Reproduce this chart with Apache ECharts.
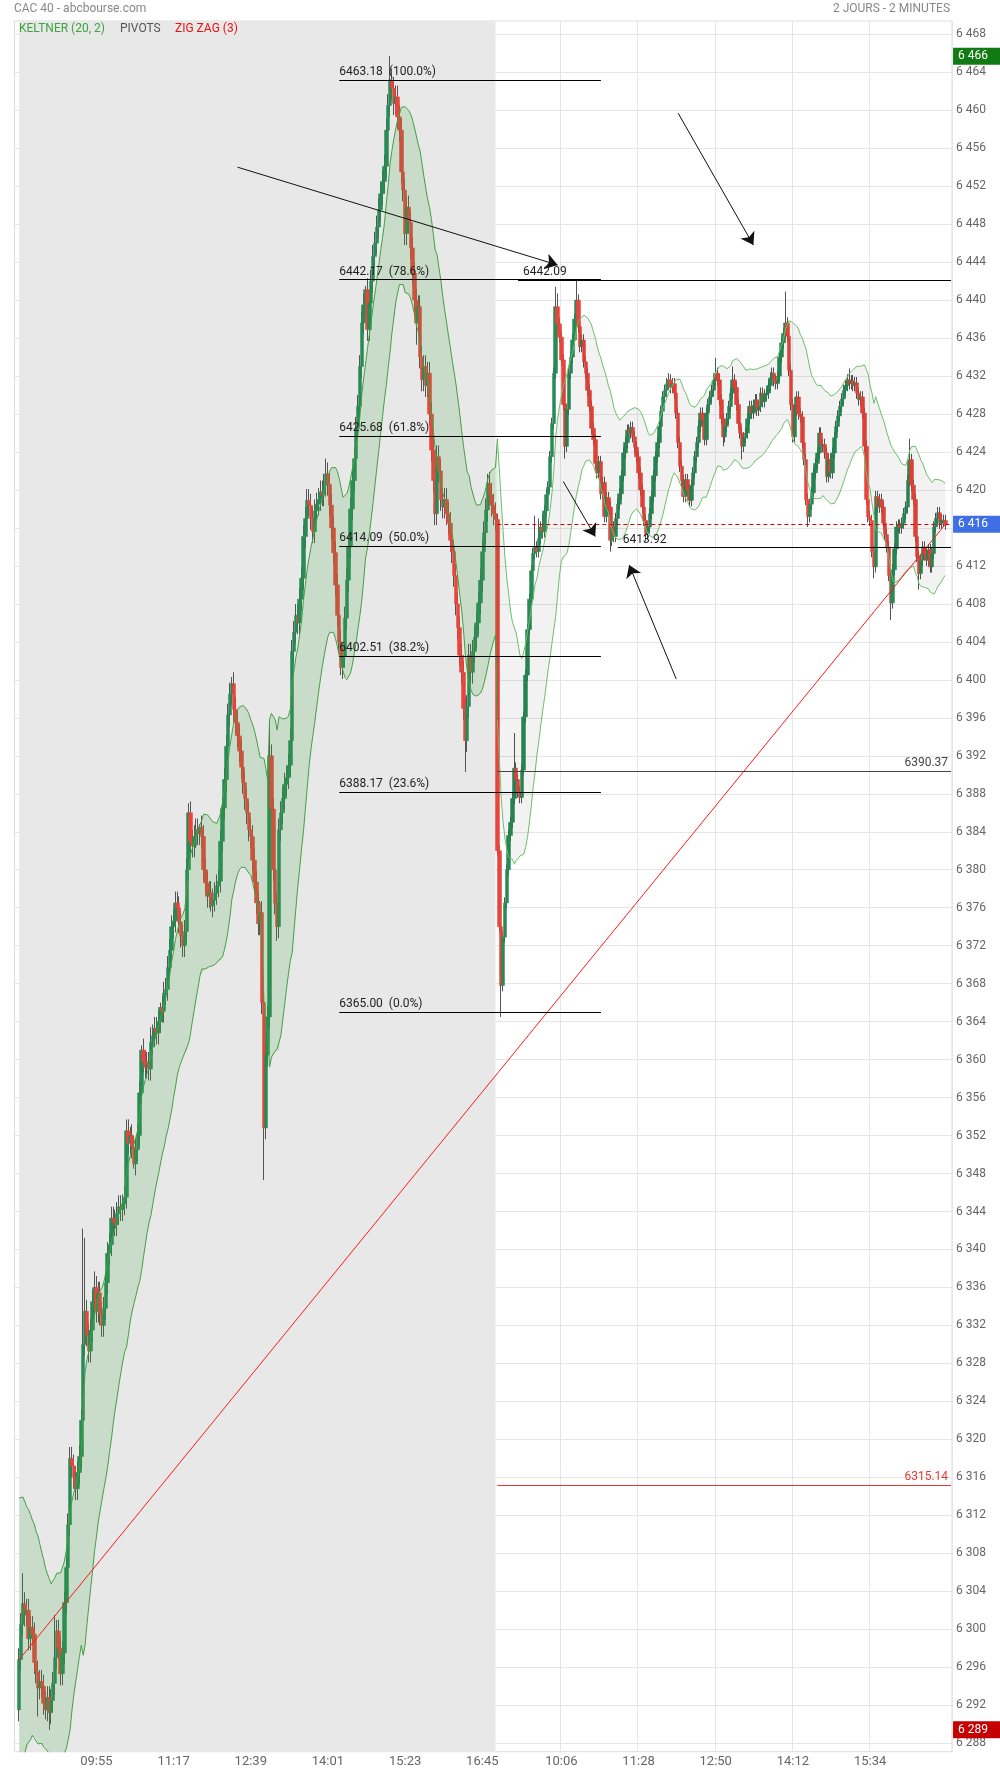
<!DOCTYPE html>
<html><head><meta charset="utf-8">
<script src="https://cdn.jsdelivr.net/npm/echarts@6/dist/echarts.min.js"></script>
<style>html,body{margin:0;padding:0;background:#fff}#c{width:1000px;height:1774px}</style>
</head><body><div id="c"></div>
<script>
// ---------- data ----------
const nSlots = 498;
const tickIndex = [43, 84, 125, 166, 207, 248, 290, 331, 372, 413, 454];
const tickLabels = ['09:55','11:17','12:39','14:01','15:23','16:45','10:06','11:28','12:50','14:12','15:34'];
const day1First = 2;
const day2Start = 256;
const firstOpen = 6291.5;

const closes = [
null,null,6296.8,6300.5,6302.7,6301.5,6302.0,6299.0,6300.2,6299.5,
6296.5,6295.5,6293.8,6294.5,6294.0,6292.2,6291.5,6292.8,6291.2,6292.5,
6294.3,6297.0,6299.8,6298.0,6295.3,6297.5,6302.8,6306.5,6311.0,6318.0,
6317.2,6316.0,6314.8,6316.5,6318.2,6322.0,6330.0,6333.5,6331.0,6329.3,
6331.5,6334.5,6336.0,6333.5,6335.4,6333.2,6332.0,6333.8,6336.5,6339.6,
6340.5,6343.3,6343.0,6342.6,6343.8,6344.5,6344.2,6344.8,6345.5,6352.5,
6351.2,6352.0,6350.8,6349.0,6350.5,6352.0,6356.5,6361.0,6359.8,6359.2,
6359.6,6359.0,6361.8,6362.5,6363.3,6362.8,6364.0,6365.5,6365.1,6367.0,
6367.4,6369.7,6371.5,6374.0,6374.6,6376.5,6376.0,6374.5,6373.0,6372.0,
6373.5,6380.0,6386.0,6383.0,6382.5,6383.5,6384.2,6383.8,6384.5,6383.5,
6380.0,6378.6,6377.2,6377.6,6376.2,6376.8,6377.5,6378.3,6378.8,6383.0,
6386.5,6389.5,6393.0,6396.3,6398.5,6399.6,6396.9,6395.5,6394.1,6392.5,
6390.8,6389.2,6387.5,6386.0,6384.2,6383.5,6381.0,6378.7,6376.5,6374.3,
6375.5,6366.0,6352.8,6360.5,6364.5,6392.0,6386.4,6380.0,6376.5,6374.0,
6384.2,6386.0,6387.5,6389.0,6389.7,6391.0,6393.6,6403.0,6405.0,6406.8,
6406.0,6408.5,6410.7,6415.1,6417.0,6418.9,6418.4,6417.0,6415.6,6417.8,
6418.5,6419.0,6419.8,6419.5,6420.5,6421.7,6420.6,6418.4,6416.0,6413.4,
6410.0,6406.8,6404.0,6401.3,6402.5,6406.5,6410.5,6414.0,6418.0,6421.0,
6423.3,6426.5,6428.8,6433.0,6437.6,6439.5,6441.1,6436.9,6439.7,6442.0,
6444.6,6446.0,6447.7,6449.5,6451.2,6452.5,6454.1,6457.9,6460.5,6463.2,
6462.3,6460.7,6461.4,6459.3,6457.9,6453.5,6451.6,6447.0,6449.8,6448.2,
6445.5,6442.8,6440.0,6437.6,6439.3,6434.0,6431.6,6433.0,6431.0,6432.3,
6428.0,6424.2,6421.0,6417.5,6423.5,6422.0,6419.0,6418.2,6419.0,6417.5,
6416.5,6414.7,6413.5,6411.0,6408.0,6405.5,6402.6,6400.8,6397.0,6393.6,
6397.2,6402.6,6400.8,6403.0,6404.5,6406.0,6408.1,6410.5,6413.5,6415.5,
6417.9,6420.7,6419.5,6418.4,6417.5,6416.9,6382.0,6374.0,6367.8,6372.9,
6376.5,6380.0,6383.6,6385.0,6387.5,6390.7,6389.5,6388.2,6387.6,6390.5,
6396.1,6400.5,6405.3,6408.5,6411.5,6413.3,6414.0,6413.5,6414.9,6416.1,
6415.6,6417.8,6419.5,6420.3,6423.5,6427.0,6432.3,6439.3,6437.5,6436.1,
6433.7,6429.0,6424.6,6428.5,6432.3,6434.0,6435.8,6438.0,6440.0,6437.2,
6435.1,6435.8,6433.5,6432.3,6430.5,6428.8,6426.5,6425.3,6422.8,6421.8,
6423.0,6419.6,6420.8,6417.2,6419.2,6418.2,6414.7,6416.1,6415.1,6417.0,
6418.5,6419.6,6421.5,6423.9,6425.0,6426.3,6426.0,6426.6,6425.6,6424.5,
6423.5,6421.8,6420.0,6418.2,6416.8,6415.4,6416.1,6417.5,6419.3,6421.5,
6423.5,6425.0,6426.7,6428.3,6429.8,6430.5,6431.2,6431.6,6430.8,6431.2,
6430.2,6428.1,6425.0,6422.5,6421.0,6419.3,6421.1,6420.0,6418.9,6420.5,
6421.8,6423.5,6425.0,6426.7,6428.1,6427.4,6425.3,6428.1,6429.0,6429.8,
6430.5,6431.5,6432.3,6431.6,6429.5,6427.5,6425.6,6426.7,6427.5,6428.8,
6430.2,6431.6,6430.8,6429.0,6427.0,6426.0,6424.6,6425.5,6426.0,6427.5,
6428.8,6428.1,6428.9,6429.5,6428.4,6428.8,6430.2,6429.3,6430.0,6430.2,
6431.0,6431.8,6432.3,6431.5,6431.2,6432.0,6434.0,6435.5,6436.5,6437.6,
6436.2,6432.6,6429.0,6425.6,6428.4,6429.8,6428.0,6427.7,6425.0,6423.2,
6419.0,6417.2,6418.5,6419.7,6421.8,6422.8,6423.9,6426.0,6424.6,6424.8,
6423.9,6421.4,6423.2,6421.8,6423.9,6425.5,6426.7,6427.8,6428.8,6429.6,
6430.5,6431.0,6431.6,6431.2,6431.5,6431.0,6431.3,6430.2,6429.5,6429.8,
6428.1,6424.6,6419.0,6417.2,6416.8,6413.5,6411.9,6419.3,6418.2,6419.0,
6418.2,6416.5,6415.3,6414.0,6411.0,6408.1,6411.6,6413.8,6416.1,6416.3,
6416.0,6416.5,6417.5,6418.2,6421.0,6423.2,6420.5,6419.0,6415.1,6413.0,
6411.2,6412.6,6414.0,6413.3,6412.6,6413.7,6411.9,6413.3,6416.1,6417.0,
6417.6,6416.5,6416.8,6416.8,6416.4
];

// long wicks (index: price)
const highWicks = {4:6305.9,21:6301.5,36:6342.2,37:6341.2,42:6337.7,49:6340.8,57:6345.8,61:6352.9,67:6361.5,
  72:6363.4,77:6366.0,92:6387.0,98:6384.8,115:6400.3,135:6395.8,165:6423.3,186:6441.5,199:6465.7,251:6421.7,
  265:6394.4,276:6417.3,278:6417.0,280:6417.5,287:6441.4,288:6440.7,298:6442.09,347:6432.3,372:6433.9,
  381:6433.0,409:6440.9,443:6432.8,475:6425.4,490:6418.2};
const lowWicks = {12:6290.8,16:6290.5,18:6289.4,63:6348.5,104:6375.6,132:6347.3,139:6372.5,173:6400.5,
  207:6445.8,213:6435.3,239:6390.3,258:6364.5,292:6423.3,316:6413.5,335:6414.6,358:6418.2,376:6424.6,
  386:6423.2,421:6416.1,456:6410.7,465:6406.3,480:6409.5};
// typical wick length seen on ordinary candles of each session
const wickDay1 = 1.2, wickDay2 = 0.6;

const fibLevels = [6463.18, 6442.17, 6425.68, 6414.09, 6402.51, 6388.17, 6365.00];
const fibPcts = ['100.0%', '78.6%', '61.8%', '50.0%', '38.2%', '23.6%', '0.0%'];
const fibFrom = 172, fibTo = 311;
const levelValues = [6442.09, 6413.92];
const levelFrom = [267, 320];
const pivotValues = [6390.37, 6315.14];
const pivotColors = ['#444444', '#e53935'];
const arrowTails = [[118, 6454.0], [352, 6459.7], [291, 6420.9], [351, 6400.1]];
const arrowTips = [[288, 6443.7], [392, 6445.8], [308, 6415.1], [326, 6412.1]];

const kcPeriod = 20, kcMult = 2, kcSeedMid = 6300, kcSeedAtr = 7;
const yMin = 6287.1, yMax = 6469.4, yTickFrom = 6288, yTickTo = 6468, yTickStep = 4;

// ---------- build ----------
const fmt = v => String(Math.round(v)).replace(/\B(?=(\d{3})+(?!\d))/g, ' ');
const cats = Array.from({length: nSlots}, (_, i) => String(i));
const yTicks = [];
for (let v = yTickFrom; v <= yTickTo; v += yTickStep) yTicks.push(v);

const ohlc = [], bodies = [];
let prev = firstOpen;
let maxHigh = -Infinity, minLow = Infinity, lastIdx = 0;
for (let i = 0; i < closes.length; i++) {
  const c = closes[i];
  if (c == null) { ohlc.push(['-','-','-','-']); bodies.push(['-','-','-','-']); continue; }
  const o = prev;
  const pad = i < day2Start ? wickDay1 : wickDay2;
  const h = highWicks[i] != null ? Math.max(highWicks[i], o, c) : Math.max(o, c) + pad;
  const l = lowWicks[i] != null ? Math.min(lowWicks[i], o, c) : Math.min(o, c) - pad;
  ohlc.push([o, c, l, h]);
  bodies.push([o, c, Math.min(o, c), Math.max(o, c)]);
  maxHigh = Math.max(maxHigh, h); minLow = Math.min(minLow, l);
  prev = c; lastIdx = i;
}
const lastClose = closes[lastIdx];

// Keltner (20, 2)
const alpha = 2 / (kcPeriod + 1);
const kUp = [], kLo = [];
let mid = kcSeedMid, atr = kcSeedAtr, pc = null;
for (let i = 0; i < closes.length; i++) {
  if (closes[i] == null) { kUp.push(null); kLo.push(null); continue; }
  const [o, c, l, h] = ohlc[i];
  const tr = pc == null ? h - l : Math.max(h - l, Math.abs(h - pc), Math.abs(l - pc));
  mid += alpha * (c - mid);
  atr += alpha * (tr - atr);
  kUp.push(mid + kcMult * atr); kLo.push(mid - kcMult * atr);
  pc = c;
}
function bandPart(a, b) {
  const lo = [], diff = [];
  for (let i = 0; i < nSlots; i++) {
    if (i >= a && i <= b && kLo[i] != null) { lo.push(kLo[i]); diff.push(kUp[i] - kLo[i]); }
    else { lo.push(null); diff.push(null); }
  }
  return {lo, diff};
}
const band1 = bandPart(day1First, day2Start);
const band2 = bandPart(day2Start, lastIdx);

// annotation lines
const labFont = {fontSize: 12, fontFamily: 'Roboto'};
const mlData = [];
fibLevels.forEach((v, k) => {
  mlData.push([
    {coord: [fibFrom, v], lineStyle: {color: '#000', width: 1, type: 'solid'},
     label: Object.assign({show: true, position: 'insideStartTop', distance: [0, 2], formatter: v.toFixed(2) + '  (' + fibPcts[k] + ')',
       color: '#222'}, labFont)},
    {coord: [fibTo, v]}
  ]);
});
levelValues.forEach((v, k) => {
  mlData.push([
    {coord: [levelFrom[k], v], lineStyle: {color: '#000', width: 1, type: 'solid'},
     label: Object.assign({show: true, position: 'insideStartTop', distance: [5, 2], formatter: v.toFixed(2),
       color: '#222'}, labFont)},
    {coord: [nSlots - 1, v]}
  ]);
});
pivotValues.forEach((v, k) => {
  mlData.push([
    {coord: [day2Start, v], lineStyle: {color: pivotColors[k], width: 1, type: 'solid'},
     label: Object.assign({show: true, position: 'insideEndTop', distance: [3, 2], formatter: v.toFixed(2),
       color: pivotColors[k]}, labFont)},
    {coord: [nSlots - 1, v]}
  ]);
});
// last price dashed
mlData.push([
  {coord: [day2Start, lastClose], lineStyle: {color: '#e00000', width: 1, type: [4, 3]}, label: {show: false}},
  {coord: [nSlots - 1, lastClose]}
]);
// arrows
arrowTails.forEach((t, k) => {
  mlData.push([
    {coord: t, symbol: 'none', lineStyle: {color: '#111', width: 1, type: 'solid'}, label: {show: false}},
    {coord: arrowTips[k], symbol: 'arrow', symbolSize: 12}
  ]);
});

// axis badges
function badge(v, bg) {
  return [
    {coord: [nSlots - 2, v], symbol: 'none', lineStyle: {color: 'rgba(0,0,0,0)', width: 0},
     label: {show: true, position: 'end', distance: 2, formatter: fmt(v), color: '#fff', backgroundColor: bg,
       padding: [3, 0, 2, 5], width: 43, fontSize: 12, fontFamily: 'Roboto'}},
    {coord: [nSlots - 1, v], symbol: 'none'}
  ];
}
mlData.push(badge(maxHigh, '#127a12'));
mlData.push(badge(lastClose, '#3f6fe2'));
mlData.push(badge(minLow, '#c40000'));

const option = {
  animation: false,
  backgroundColor: '#ffffff',
  textStyle: {fontFamily: 'Roboto'},
  grid: {left: 14.5, right: 48, top: 21, bottom: 22.3, show: true, borderColor: '#dddddd', borderWidth: 1},
  xAxis: {
    type: 'category', data: cats, boundaryGap: true,
    axisLine: {show: false}, axisTick: {show: false},
    axisLabel: {interval: (i) => tickIndex.includes(i), formatter: (v, i) => {
      const k = tickIndex.indexOf(Number(v)); return k >= 0 ? tickLabels[k] : ''; },
      color: '#666', fontSize: 13, margin: 4, fontFamily: 'Roboto'},
    splitLine: {show: true, interval: (i) => tickIndex.includes(i), lineStyle: {color: '#e6e6e6'}}
  },
  yAxis: {
    type: 'value', position: 'right', min: yMin, max: yMax, scale: true,
    axisLine: {show: false},
    axisTick: {show: false, customValues: yTicks},
    axisLabel: {customValues: yTicks, formatter: (v) => fmt(v), color: '#666', fontSize: 12, margin: 4, fontFamily: 'Roboto'},
    splitLine: {show: true, lineStyle: {color: '#e6e6e6'}}
  },
  graphic: [
    {type: 'text', left: 14, top: 3, z: 100, style: {text: 'CAC 40 - abcbourse.com', fill: '#888', fontSize: 12, fontFamily: 'Roboto'}},
    {type: 'text', right: 50, top: 3, z: 100, style: {text: '2 JOURS - 2 MINUTES', fill: '#888', fontSize: 12, fontFamily: 'Roboto'}},
    {type: 'text', left: 19, top: 23, z: 100, style: {text: 'KELTNER (20, 2)', fill: '#3fa33f', fontSize: 12, fontFamily: 'Roboto'}},
    {type: 'text', left: 120, top: 23, z: 100, style: {text: 'PIVOTS', fill: '#555', fontSize: 12, fontFamily: 'Roboto'}},
    {type: 'text', left: 175, top: 23, z: 100, style: {text: 'ZIG ZAG (3)', fill: '#ee1111', fontSize: 12, fontFamily: 'Roboto'}}
  ],
  series: [
    {type: 'line', name: 'bg', data: [], z: 1, silent: true,
      markArea: {silent: true, itemStyle: {color: '#e8e8e8'}, data: [[{xAxis: day1First}, {xAxis: day2Start - 1}]]}},
    {type: 'candlestick', name: 'wicks', data: ohlc, z: 2, barWidth: 1, silent: true,
      itemStyle: {color: '#555', color0: '#555', borderColor: '#555', borderColor0: '#555', borderWidth: 1}},
    {type: 'candlestick', name: 'bodies', data: bodies, z: 2, barWidth: 4, silent: true,
      itemStyle: {color: '#2a8a56', color0: '#e8453c', borderColor: '#2a8a56', borderColor0: '#e8453c', borderWidth: 0.5}},
    {type: 'line', name: 'kc1lo', data: band1.lo, stack: 'kc1', symbol: 'none', z: 3, silent: true,
      lineStyle: {color: '#43a043', width: 1}},
    {type: 'line', name: 'kc1up', data: band1.diff, stack: 'kc1', symbol: 'none', z: 3, silent: true,
      lineStyle: {color: '#43a043', width: 1}, areaStyle: {color: 'rgba(60,160,60,0.26)'}},
    {type: 'line', name: 'kc2lo', data: band2.lo, stack: 'kc2', symbol: 'none', z: 3, silent: true,
      lineStyle: {color: '#6cbf6c', width: 1}},
    {type: 'line', name: 'kc2up', data: band2.diff, stack: 'kc2', symbol: 'none', z: 3, silent: true,
      lineStyle: {color: '#6cbf6c', width: 1}, areaStyle: {color: 'rgba(0,0,0,0.075)'}},
    {type: 'line', name: 'zigzag', data: [[day1First, closes[day1First]], [lastIdx, lastClose]], symbol: 'none', z: 4, silent: true,
      lineStyle: {color: '#ff1a1a', width: 1},
      markLine: {silent: true, symbol: ['none', 'none'], animation: false, data: mlData}}
  ]
};
const chart = echarts.init(document.getElementById('c'), null, {renderer: 'canvas'});
chart.setOption(option);
</script></body></html>
